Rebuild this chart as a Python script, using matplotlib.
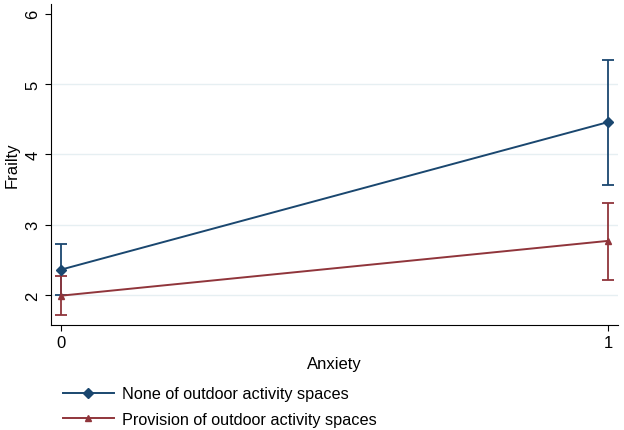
import matplotlib
matplotlib.use("Agg")
import matplotlib.pyplot as plt
from matplotlib.lines import Line2D

plt.rcParams['font.family'] = ['Liberation Sans', 'DejaVu Sans']

# margins at anxiety = 0 / 1
anxiety = [0, 1]
none_est = [2.36, 4.46]
none_lo = [2.00, 3.56]
none_hi = [2.73, 5.35]
prov_est = [1.99, 2.77]
prov_lo = [1.72, 2.21]
prov_hi = [2.27, 3.31]

blue = '#1a476f'
red = '#90353b'

fig = plt.figure(figsize=(6.24, 4.31), dpi=100)
ax = fig.add_axes([51/624, 1 - 326/431, 567/624, 321/431])

handles = []
for est, lo, hi, col, mk, lab in [
        (none_est, none_lo, none_hi, blue, 'D', 'None of outdoor activity spaces'),
        (prov_est, prov_lo, prov_hi, red, '^', 'Provision of outdoor activity spaces')]:
    yerr = [[e - l for e, l in zip(est, lo)], [h - e for e, h in zip(est, hi)]]
    ax.errorbar(anxiety, est, yerr=yerr, color=col, marker=mk, markersize=5,
                linewidth=1.4, elinewidth=1.3, capsize=4, capthick=1.3)
    handles.append(Line2D([], [], color=col, marker=mk, markersize=5,
                          linewidth=1.4, label=lab))

ax.set_xlim(-0.018, 1.018)
ax.set_ylim(1.573, 6.14)
ax.set_xticks([0, 1])
ax.set_yticks([2, 3, 4, 5, 6])
for y in [2, 3, 4, 5]:
    ax.axhline(y, color='#e6eff2', linewidth=1, zorder=0)
ax.tick_params(axis='y', labelrotation=90, labelsize=12, length=4)
ax.tick_params(axis='x', labelsize=12, length=4)
for lab in ax.get_yticklabels():
    lab.set_va('center')
ax.spines['top'].set_visible(False)
ax.spines['right'].set_visible(False)
ax.set_xlabel('Anxiety', fontsize=12)
ax.set_ylabel('Frailty', fontsize=12)

ax.legend(handles=handles, loc='upper left', bbox_to_anchor=(0.01, -0.171),
          frameon=False, fontsize=11.7, handlelength=3.1, handletextpad=0.5,
          borderaxespad=0, labelspacing=0.65)

fig.savefig('out.png', dpi=100)
